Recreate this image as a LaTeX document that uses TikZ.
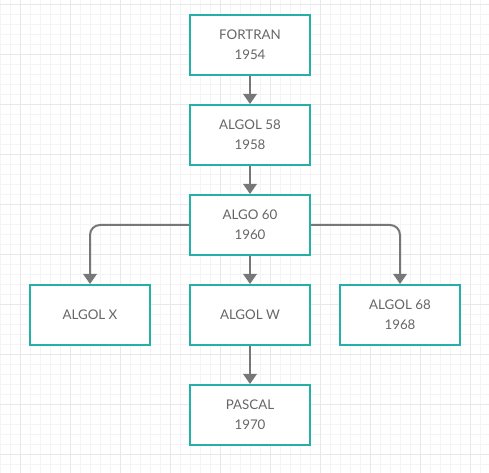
\documentclass[tikz,border=0pt]{standalone}
\usepackage{fontspec}
\setmainfont{Lato}
\usetikzlibrary{arrows.meta}
\definecolor{boxteal}{HTML}{26AFA8}
\definecolor{linegray}{HTML}{777777}
\definecolor{textgray}{HTML}{666666}
\definecolor{gridminor}{HTML}{F4F4F4}
\definecolor{gridmajor}{HTML}{E8E8E8}
\begin{document}
\begin{tikzpicture}[x=0.75pt,y=0.75pt,yscale=-1,xscale=1,
    langbox/.style={draw=boxteal, line width=1.5pt, fill=white, minimum width=90pt, minimum height=45pt, inner sep=0pt, align=center, font=\fontsize{10}{15}\selectfont, text=textgray},
    conn/.style={draw=linegray, line width=1.5pt, -{Triangle[width=10pt,length=7.5pt]}}]
    \useasboundingbox (0,0) rectangle (489,473);
    \fill[white] (0,0) rectangle (489,473);
    %Grid
    \foreach \x in {0,10,...,480} \draw[gridminor, line width=0.75pt] (\x,0) -- (\x,473);
    \foreach \y in {5,15,...,465} \draw[gridminor, line width=0.75pt] (0,\y) -- (489,\y);
    \foreach \x in {20,70,...,470} \draw[gridmajor, line width=0.75pt] (\x,0) -- (\x,473);
    \foreach \y in {5,55,...,455} \draw[gridmajor, line width=0.75pt] (0,\y) -- (489,\y);
    
    %Shape: Rectangle [FORTRAN]
    \node[langbox] (fortran) at (250,45) {FORTRAN\\1954};
    %Shape: Rectangle [ALGOL 58]
    \node[langbox] (algol58) at (250,135) {ALGOL 58\\1958};
    %Shape: Rectangle [ALGO 60]
    \node[langbox] (algo60) at (250,225) {ALGO 60\\1960};
    %Shape: Rectangle [ALGOL X]
    \node[langbox] (algolx) at (90,315) {ALGOL X};
    %Shape: Rectangle [ALGOL W]
    \node[langbox] (algolw) at (250,315) {ALGOL W};
    %Shape: Rectangle [ALGOL 68]
    \node[langbox] (algol68) at (400,315) {ALGOL 68\\1968};
    %Shape: Rectangle [PASCAL]
    \node[langbox] (pascal) at (250,415) {PASCAL\\1970};
    
    %Straight Lines
    \draw[conn] (fortran) -- (algol58);
    \draw[conn] (algol58) -- (algo60);
    \draw[conn] (algo60) -- (algolw);
    \draw[conn] (algolw) -- (pascal);
    %Elbow Lines
    \draw[conn, rounded corners=7.5pt] (algo60.west) -| (algolx.north);
    \draw[conn, rounded corners=7.5pt] (algo60.east) -| (algol68.north);
    
\end{tikzpicture}
\end{document}
